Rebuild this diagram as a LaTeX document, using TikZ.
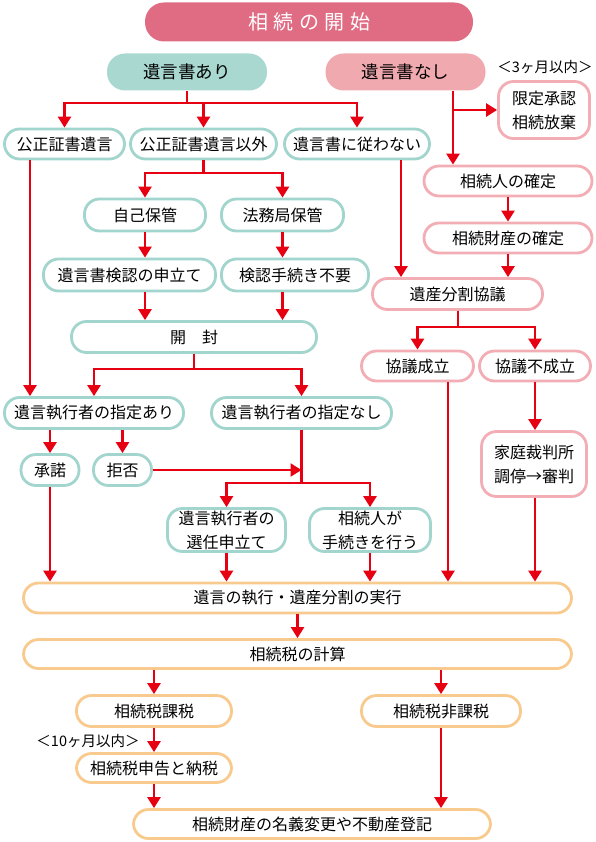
\documentclass[tikz,border=0pt]{standalone}
\usepackage{fontspec}
\setmainfont{Noto Sans CJK JP}
\usetikzlibrary{arrows.meta}
\definecolor{titlefill}{HTML}{E06C84}
\definecolor{arifill}{HTML}{A8D8D0}
\definecolor{nashifill}{HTML}{F0A9AF}
\definecolor{tealB}{HTML}{A2D5CD}
\definecolor{pinkB}{HTML}{F2AEB4}
\definecolor{orangeB}{HTML}{F8CA8E}
\definecolor{arrowred}{HTML}{E60012}
\begin{document}
\begin{tikzpicture}[x=1pt,y=-1pt,
  box/.style={rectangle, rounded corners=15pt, line width=2.8pt, fill=white, inner sep=0pt, align=center, font=\fontsize{16}{24}\selectfont},
  tbox/.style={box, draw=tealB},
  pbox/.style={box, draw=pinkB},
  obox/.style={box, draw=orangeB},
  ln/.style={draw=arrowred, line width=2.5pt},
  arr/.style={ln, -{Triangle[width=13pt,length=11pt]}},
  note/.style={inner sep=0pt, font=\fontsize{14.5}{16}\selectfont}
]
\useasboundingbox (0,0) rectangle (595,842);
% top
\node[rectangle, rounded corners=19pt, fill=titlefill, text=white, minimum width=328, minimum height=39, font=\fontsize{20}{22}\selectfont] (title) at (309,22) {相\hspace{5.5pt}続\hspace{5.5pt}の\hspace{5.5pt}開\hspace{5.5pt}始};
\node[rectangle, rounded corners=18pt, fill=arifill, minimum width=160, minimum height=37, font=\fontsize{17.5}{20}\selectfont] (ari) at (187,72) {遺言書あり};
\node[rectangle, rounded corners=18pt, fill=nashifill, minimum width=160, minimum height=37, font=\fontsize{17.5}{20}\selectfont] (nashi) at (405.5,72) {遺言書なし};
\node[note] (lim3) at (545,67) {＜3ヶ月以内＞};
\node[pbox, minimum width=91, minimum height=57] (gentei) at (544,110) {限定承認\\相続放棄};
% row 2
\node[tbox, minimum width=120, minimum height=30] (kosei) at (64.5,144) {公正証書遺言};
\node[tbox, minimum width=146, minimum height=30] (igai) at (203.5,144) {公正証書遺言以外};
\node[tbox, minimum width=145, minimum height=30] (shitagawa) at (357,144) {遺言書に従わない};
% right column
\node[pbox, minimum width=168, minimum height=30] (kakutei) at (508,181) {相続人の確定};
\node[pbox, minimum width=168, minimum height=30] (zaisan) at (508,238) {相続財産の確定};
\node[pbox, minimum width=170, minimum height=31] (bunkatsu) at (457.5,294) {遺産分割協議};
\node[pbox, minimum width=112, minimum height=30] (seiritsu) at (417.5,366) {協議成立};
\node[pbox, minimum width=111, minimum height=30] (fuseiritsu) at (535,366) {協議不成立};
\node[pbox, minimum width=105, minimum height=65] (katei) at (534,464) {家庭裁判所\\調停→審判};
% left column
\node[tbox, minimum width=121, minimum height=32] (jiko) at (145,215) {自己保管};
\node[tbox, minimum width=122, minimum height=32] (homu) at (282.5,215) {法務局保管};
\node[tbox, minimum width=172, minimum height=32] (kenin) at (129.5,275) {遺言書検認の申立て};
\node[tbox, minimum width=147, minimum height=32] (fuyo) at (295,275) {検認手続き不要};
\node[tbox, minimum width=245, minimum height=31] (kaifu) at (194,337) {開　封};
\node[tbox, minimum width=179, minimum height=31] (shiteiari) at (94,413) {遺言執行者の指定あり};
\node[tbox, minimum width=180, minimum height=31] (shiteinashi) at (301.5,413) {遺言執行者の指定なし};
\node[tbox, minimum width=58, minimum height=31] (shodaku) at (50,470) {承諾};
\node[tbox, minimum width=58, minimum height=31] (kyohi) at (122.5,470) {拒否};
\node[tbox, minimum width=118, minimum height=43] (senin) at (226.5,530) {遺言執行者の\\選任申立て};
\node[tbox, minimum width=121, minimum height=43] (tetsuzuki) at (370,530) {相続人が\\手続きを行う};
% bottom
\node[obox, minimum width=548, minimum height=30] (shikko) at (297.5,598) {遺言の執行・遺産分割の実行};
\node[obox, minimum width=548, minimum height=29] (keisan) at (297.5,654) {相続税の計算};
\node[obox, minimum width=155, minimum height=31] (kazei) at (154,711) {相続税課税};
\node[obox, minimum width=159, minimum height=31] (hikazei) at (441,711) {相続税非課税};
\node[note] (lim10) at (88,741) {＜10ヶ月以内＞};
\node[obox, minimum width=155, minimum height=29] (shinkoku) at (154,768) {相続税申告と納税};
\node[obox, minimum width=357, minimum height=29] (meigi) at (312,824) {相続財産の名義変更や不動産登記};
% helper coordinates
\coordinate (j1) at (187,103);
\coordinate (nx) at (453,0);
\coordinate (x401) at (401,0);
\coordinate (j2) at (458,327);
\coordinate (x448) at (448,0);
\coordinate (j3) at (203.5,173);
\coordinate (j4) at (194,369);
\coordinate (x30) at (30,0);
\coordinate (j5) at (301.5,483);
% connectors: 遺言書あり
\draw[ln] (ari.south) -- (j1);
\draw[arr] (j1) -| (kosei.north);
\draw[arr] (j1) -| (shitagawa.north);
\draw[arr] (igai.north |- j1) -- (igai.north);
% 遺言書なし
\draw[arr] (nashi.south -| nx) -- (kakutei.north -| nx);
\draw[arr] (gentei.west -| nx) -- (gentei.west);
\draw[arr] (kakutei.south) -- (zaisan.north);
\draw[arr] (zaisan.south) -- (bunkatsu.north -| zaisan.south);
\draw[arr] (shitagawa.south -| x401) -- (bunkatsu.north -| x401);
\draw[ln] (bunkatsu.south -| j2) -- (j2);
\draw[arr] (j2) -| (seiritsu.north);
\draw[arr] (j2) -| (fuseiritsu.north);
\draw[arr] (seiritsu.south -| x448) -- (shikko.north -| x448);
\draw[arr] (fuseiritsu.south) -- (katei.north -| fuseiritsu.south);
\draw[arr] (katei.south -| fuseiritsu.south) -- (shikko.north -| fuseiritsu.south);
% 公正証書遺言以外
\draw[ln] (igai.south) -- (j3);
\draw[arr] (j3) -| (jiko.north);
\draw[arr] (j3) -| (homu.north);
\draw[arr] (jiko.south) -- (kenin.north -| jiko.south);
\draw[arr] (homu.south) -- (fuyo.north -| homu.south);
\draw[arr] (kenin.south -| jiko.south) -- (kaifu.north -| jiko.south);
\draw[arr] (fuyo.south -| homu.south) -- (kaifu.north -| homu.south);
\draw[ln] (kaifu.south) -- (j4);
\draw[arr] (j4) -| (shiteiari.north);
\draw[arr] (j4) -| (shiteinashi.north);
\draw[arr] (kosei.south -| x30) -- (shiteiari.north -| x30);
\draw[arr] (shiteiari.south -| shodaku.north) -- (shodaku.north);
\draw[arr] (shiteiari.south -| kyohi.north) -- (kyohi.north);
\draw[ln] (shiteinashi.south) -- (j5);
\draw[arr] (kyohi.east) -- (kyohi.east -| j5);
\draw[arr] (j5) -| (senin.north);
\draw[arr] (j5) -| (tetsuzuki.north);
\draw[arr] (shodaku.south) -- (shikko.north -| shodaku.south);
\draw[arr] (senin.south) -- (shikko.north -| senin.south);
\draw[arr] (tetsuzuki.south) -- (shikko.north -| tetsuzuki.south);
% tax
\draw[arr] (shikko.south) -- (keisan.north);
\draw[arr] (keisan.south -| kazei.north) -- (kazei.north);
\draw[arr] (keisan.south -| hikazei.north) -- (hikazei.north);
\draw[arr] (kazei.south) -- (shinkoku.north);
\draw[arr] (shinkoku.south) -- (meigi.north -| shinkoku.south);
\draw[arr] (hikazei.south) -- (meigi.north -| hikazei.south);
\end{tikzpicture}
\end{document}
